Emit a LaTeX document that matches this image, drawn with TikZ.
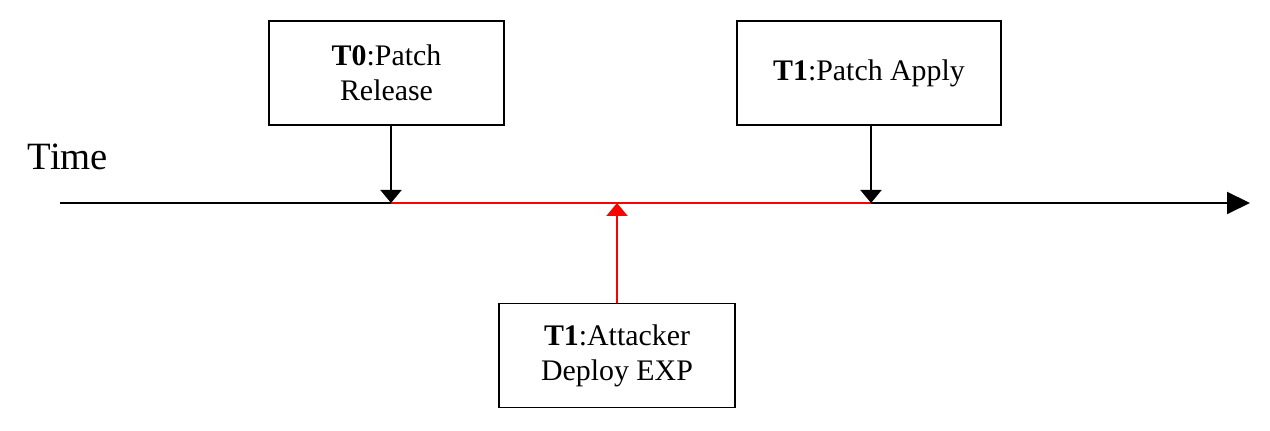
\documentclass[tikz,border=0pt]{standalone}
\usepackage{fontspec}
\setmainfont{Liberation Serif}
\usepackage{xcolor}
\usetikzlibrary{arrows.meta,positioning}
\definecolor{ink}{HTML}{000000}
\definecolor{attackred}{HTML}{FF0000}
\tikzset{
  eventbox/.style={draw=ink,fill=white,line width=1.1pt,
                   minimum height=2.08cm,align=center,
                   font=\fontsize{17}{20}\selectfont,inner sep=4pt},
  timearr/.style={-{Triangle[length=4.6mm,width=4.4mm]},line width=1.1pt,color=ink},
  markarr/.style={-{Triangle[length=2.6mm,width=4.2mm]},line width=1.1pt,color=ink},
  redarr/.style={markarr,color=attackred}
}

\begin{document}
\begin{tikzpicture}[x=0.02cm,y=-0.02cm]
  \useasboundingbox (0,0) rectangle (1270,431);
  \coordinate (start) at (60,203);
  \coordinate (tip) at (1250,203);
  \coordinate (t0) at (391,203);
  \coordinate (t1) at (871,203);
  \coordinate (hit) at (617,203);
  \draw[timearr] (start) -- (tip);
  \draw[attackred,line width=1.1pt] (t0) -- (t1);
  \node[font=\fontsize{22}{26}\selectfont] (time) at (68,157) {Time};
  \node[eventbox,minimum width=4.7cm] (release) at (386.5,73) {\textbf{T0}:Patch\\Release};
  \node[eventbox,minimum width=5.28cm] (apply) at (869,73) {\textbf{T1}:Patch Apply};
  \node[eventbox,minimum width=4.72cm] (attack) at (617,355.5) {\textbf{T1}:Attacker\\Deploy EXP};
  \draw[markarr] (release.south -| t0) -- (t0);
  \draw[markarr] (apply.south -| t1) -- (t1);
  \draw[redarr] (attack.north -| hit) -- (hit);
\end{tikzpicture}
\end{document}
